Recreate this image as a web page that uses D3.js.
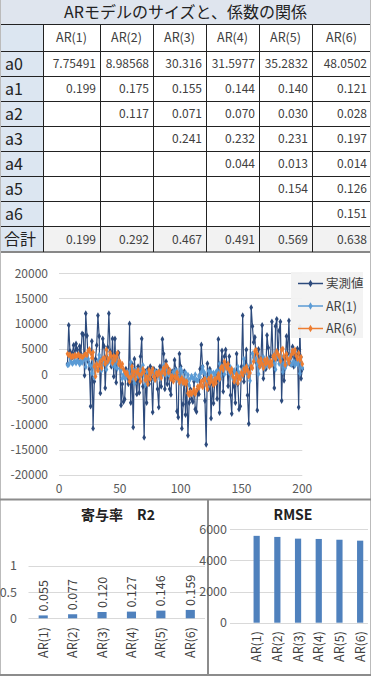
<!DOCTYPE html>
<html><head><meta charset="utf-8">
<script src="https://cdn.jsdelivr.net/npm/d3@7"></script>
<style>
html,body{margin:0;padding:0;background:#fff;}
svg{display:block;}
text{font-family:"Noto Sans CJK JP","Noto Sans",sans-serif;}
</style></head><body>
<svg id="c" width="371" height="676"></svg>
<script>
// ---------------- data ----------------
const tableTitle = "ARモデルのサイズと、係数の関係";
const models = ["AR(1)","AR(2)","AR(3)","AR(4)","AR(5)","AR(6)"];
const rowLabels = ["a0","a1","a2","a3","a4","a5","a6","合計"];
const rowA0 = ["7.75491","8.98568","30.316","31.5977","35.2832","48.0502"];
const rowA1 = ["0.199","0.175","0.155","0.144","0.140","0.121"];
const rowA2 = ["","0.117","0.071","0.070","0.030","0.028"];
const rowA3 = ["","","0.241","0.232","0.231","0.197"];
const rowA4 = ["","","","0.044","0.013","0.014"];
const rowA5 = ["","","","","0.154","0.126"];
const rowA6 = ["","","","","","0.151"];
const rowSum = ["0.199","0.292","0.467","0.491","0.569","0.638"];

const seriesNames = ["実測値","AR(1)","AR(6)"];
const xStart = 7; // first time index
const actual = [2000,9700,4500,3000,4200,5700,3500,6000,4800,2500,
 5500,4000,8000,7800,-300,12000,7600,2500,1000,-6400,
 6500,-10800,-1500,3000,5700,11600,7500,-3800,2000,7000,
 5500,-2800,3500,5300,12000,4500,1500,7000,-500,7000,
 -1700,4000,4200,2000,-6200,-2000,-5500,-5000,1000,0,
 -2000,10000,-5700,2000,-10600,3000,-1500,-4000,1500,-3700,
 3500,7000,-2500,-12600,500,-5700,1000,-2000,1500,-1000,
 -7600,1000,-500,500,-3000,-6600,1500,-2500,6900,4000,
 -3000,2500,-2000,1000,-3000,-4100,500,-1000,2800,1000,
 -7400,-8600,4000,1500,-10800,-6000,500,-8100,-2000,-12200,
 -5700,-3000,-5000,-5500,-1500,-7000,-7500,-3000,-4000,1000,
 5800,1500,-1000,-5300,-14000,2100,-3000,1000,-8800,-2000,
 -5800,-1500,0,-4900,6900,-7700,1000,4600,-3500,3500,
 4800,2000,-2400,3500,-4200,-7900,500,-2500,-5700,4000,
 -2000,-7000,-6400,1500,11600,-1500,1000,4800,-4200,-9900,
 1000,13200,9500,6300,7300,2500,-7200,4900,1500,3000,
 9700,-900,2000,1000,7700,5200,1500,3500,10400,2500,
 -2800,9500,10900,3000,8600,10400,-5300,3000,-1300,2000,
 7500,4000,10600,2000,3500,5400,1500,4000,2500,5000,
 -6600,9400,-900,1000];
const ar1 = [1800,1840,3380,2340,2040,2280,2580,2140,2640,2400,
 1940,2540,2240,3040,3000,1380,3840,2960,1940,1640,
 160,2740,-720,1140,2040,2580,3760,2940,680,1840,
 2840,2540,880,2140,2500,3840,2340,1740,2840,1340,
 2840,1100,2240,2280,720,-920,-80,-780,-680,520,
 320,-80,2320,-820,720,-1800,920,20,-480,620,
 -420,1020,1720,-180,-2200,420,-820,520,-80,620,
 120,-1200,520,220,420,-280,-1000,620,-180,1700,
 1120,-280,820,-80,520,-280,-500,420,120,760,
 400,-1280,-1520,1000,500,-1960,-1000,300,-1420,-200,
 -2240,-940,-400,-800,-900,-100,-1200,-1300,-400,-600,
 400,1360,500,0,-860,-2600,620,-400,400,-1120,
 240,-520,340,640,-340,2020,-900,840,1560,-60,
 1340,1600,1040,160,1340,-200,-940,740,140,-500,
 1440,240,-760,-640,940,2960,340,840,1600,-200,
 -1340,1640,4080,3340,2700,2900,1940,0,2420,1740,
 2040,3380,1260,1840,1640,2980,2480,1740,2140,3520,
 1940,880,3340,3620,2040,3160,3520,380,2040,1180,
 1840,2940,2240,3560,1840,2140,2520,1740,2240,1940,
 2440,120,3320,1260];
const ar6 = [4000,3700,3900,3300,3600,3400,3800,3500,3700,3900,
 3400,3600,3300,3500,3800,4000,3700,4600,4900,4200,
 3200,4300,1500,-500,2000,700,1800,2500,1200,3000,
 3200,2000,4800,2500,3000,4200,3500,2200,3600,2800,
 3500,4200,2000,2500,1500,2000,1000,500,0,300,
 -500,-1500,-800,1500,-300,500,-1000,300,800,-200,
 -1500,0,1000,500,-1200,-500,-2000,800,-1000,300,
 1000,-500,-1200,200,-300,500,0,-800,500,1200,
 0,1800,1500,300,800,-1000,-400,-1500,-500,-800,
 300,-1000,-1700,-1200,-800,-1800,-1300,-2000,-1500,-3800,
 -4200,-3500,-4000,-3600,-3000,-4000,-3400,-2500,-2800,-2200,
 -1500,-2600,-1200,-1000,-2200,-3000,-1000,-1800,-500,-1500,
 -2200,-1000,-1800,-700,0,-1000,1200,1500,800,2500,
 1800,1200,2000,800,300,1000,-500,-1500,-800,0,
 -1800,-500,-1000,300,-200,1000,500,1500,800,-500,
 200,1500,1200,2500,4500,4800,4000,2500,1500,3000,
 2000,1200,2800,2000,3000,2200,1500,2600,1800,3500,
 3800,3000,4500,4000,3500,2600,4800,5000,3500,1800,
 4000,3000,2200,3200,3800,4600,4200,4800,3600,3000,
 4200,2800,3400,2000];
const xTicks = [0,50,100,150,200];
const yTicks = [-20000,-15000,-10000,-5000,0,5000,10000,15000,20000];

const r2Title = "寄与率　R2";
const r2Values = [0.055,0.077,0.120,0.127,0.146,0.159];
const r2Labels = ["0.055","0.077","0.120","0.127","0.146","0.159"];
const r2Ticks = [0,0.5,1];
const rmseTitle = "RMSE";
const rmseValues = [5580,5510,5400,5380,5330,5270];
const rmseTicks = [0,2000,4000,6000];

// ---------------- drawing ----------------
const svg = d3.select("#c");
const tableRows = [rowA0,rowA1,rowA2,rowA3,rowA4,rowA5,rowA6,rowSum];

const colEdges = [0,43,100,153,206,259,312,371];
const rowEdges = [0,24.5,51,76,101,126,151,176,201,226.5,252];
const gT = svg.append("g");
gT.append("rect").attr("x",0).attr("y",0).attr("width",371).attr("height",rowEdges[1]).attr("fill","#dfe5ee");
gT.append("text").attr("x",185.5).attr("y",18).attr("text-anchor","middle").attr("font-size",16).attr("fill","#222").text(tableTitle);
gT.append("rect").attr("x",0).attr("y",rowEdges[1]).attr("width",colEdges[1]).attr("height",rowEdges[10]-rowEdges[1]).attr("fill","#dce6f1");
gT.append("rect").attr("x",colEdges[1]).attr("y",rowEdges[9]).attr("width",371-colEdges[1]).attr("height",rowEdges[10]-rowEdges[9]).attr("fill","#f2f2f2");
models.forEach((m,i)=>{
  gT.append("text").attr("x",(colEdges[i+1]+colEdges[i+2])/2).attr("y",(rowEdges[1]+rowEdges[2])/2+4.5)
    .attr("text-anchor","middle").attr("font-size",12.5).attr("fill","#404040").text(m);
});
rowLabels.forEach((r,j)=>{
  const yc=(rowEdges[j+2]+rowEdges[j+3])/2;
  gT.append("text").attr("x",r==="合計"?4:5).attr("y",yc+6).attr("font-size",16).attr("fill","#222").text(r);
  tableRows[j].forEach((v,i)=>{
    if(v==="")return;
    gT.append("text").attr("x",colEdges[i+2]-4).attr("y",yc+4.5).attr("text-anchor","end")
      .attr("font-size",12).attr("fill","#404040").text(v);
  });
});
rowEdges.forEach((y,k)=>{
  if(k===0)return;
  gT.append("line").attr("x1",0).attr("x2",371).attr("y1",y).attr("y2",y)
    .attr("stroke",k===10?"#888":"#222").attr("stroke-width",k===10?2:1).attr("shape-rendering","crispEdges");
});
colEdges.slice(1,7).forEach(x=>{
  gT.append("line").attr("x1",x).attr("x2",x).attr("y1",rowEdges[1]).attr("y2",rowEdges[10])
    .attr("stroke","#222").attr("stroke-width",1).attr("shape-rendering","crispEdges");
});
gT.append("line").attr("x1",0.5).attr("x2",0.5).attr("y1",0).attr("y2",676).attr("stroke","#bbb");
gT.append("line").attr("x1",370.5).attr("x2",370.5).attr("y1",0).attr("y2",676).attr("stroke","#bbb");

// ---------------- line chart ----------------
const x = d3.scaleLinear().domain([0,200]).range([59,302.3]);
const y = d3.scaleLinear().domain([-20000,20000]).range([474.7,273.3]);
const gL = svg.append("g");
gL.selectAll("line.gy").data(yTicks).join("line").attr("x1",59).attr("x2",302.3)
  .attr("y1",d=>Math.round(y(d))+0.5).attr("y2",d=>Math.round(y(d))+0.5).attr("stroke","#d9d9d9");
gL.selectAll("text.yt").data(yTicks).join("text").attr("x",48).attr("y",d=>y(d)+4.5)
  .attr("text-anchor","end").attr("font-size",12).attr("fill","#595959").text(d=>d);
gL.selectAll("text.xt").data(xTicks).join("text").attr("x",d=>x(d)).attr("y",493)
  .attr("text-anchor","middle").attr("font-size",12).attr("fill","#595959").text(d=>d);

const colors = ["#2c4a7c","#5b9bd5","#ed7d31"];
const widths = [1.2,1.0,1.1];
const allSeries = [actual,ar1,ar6];
const diamond = d3.symbol().type(d3.symbolDiamond).size(12);
[0,1,2].forEach(si=>{
  const pts = allSeries[si].map((v,i)=>[xStart+i,v]);
  gL.append("path").datum(pts).attr("fill","none").attr("stroke",colors[si]).attr("stroke-width",widths[si])
    .attr("d",d3.line().x(d=>x(d[0])).y(d=>y(d[1])));
  gL.selectAll(null).data(pts).join("path").attr("d",diamond)
    .attr("transform",d=>`translate(${x(d[0])},${y(d[1])})`).attr("fill",colors[si]);
});
const lg = gL.append("g");
lg.append("rect").attr("x",291).attr("y",272).attr("width",72).attr("height",66).attr("fill","#f2f2f2").attr("opacity",0.95);
seriesNames.forEach((n,i)=>{
  const yy=283.5+i*22.5;
  lg.append("line").attr("x1",298).attr("x2",323).attr("y1",yy).attr("y2",yy).attr("stroke",colors[i]).attr("stroke-width",1.5);
  lg.append("path").attr("d",d3.symbol().type(d3.symbolDiamond).size(16)).attr("transform",`translate(310.5,${yy})`).attr("fill",colors[i]);
  lg.append("text").attr("x",326).attr("y",yy+4.5).attr("font-size",12.5).attr("fill","#404040").text(n);
});

svg.append("line").attr("x1",0).attr("x2",371).attr("y1",499.5).attr("y2",499.5).attr("stroke","#8c8c8c").attr("stroke-width",2);
svg.append("line").attr("x1",208).attr("x2",208).attr("y1",499).attr("y2",676).attr("stroke","#8c8c8c").attr("stroke-width",2);
svg.append("line").attr("x1",0).attr("x2",371).attr("y1",675).attr("y2",675).attr("stroke","#8c8c8c").attr("stroke-width",2);

// ---------------- R2 bar chart ----------------
const gR = svg.append("g");
const xb = d3.scaleBand().domain(models).range([28.5,205]).paddingInner(0.69).paddingOuter(0.345);
const yb = d3.scaleLinear().domain([0,1]).range([618.3,565.7]);
gR.append("text").attr("x",118).attr("y",520).attr("text-anchor","middle").attr("font-size",14).attr("font-weight","bold").attr("fill","#222").text(r2Title);
gR.selectAll("line.g").data(r2Ticks).join("line").attr("x1",28.5).attr("x2",205)
  .attr("y1",d=>Math.round(yb(d))+0.5).attr("y2",d=>Math.round(yb(d))+0.5).attr("stroke","#d9d9d9");
gR.selectAll("text.t").data(r2Ticks).join("text").attr("x",17).attr("y",d=>yb(d)+4.5)
  .attr("text-anchor","end").attr("font-size",12.5).attr("fill","#595959").text(d=>d);
gR.selectAll("rect").data(r2Values).join("rect").attr("x",(d,i)=>xb(models[i])).attr("width",xb.bandwidth())
  .attr("y",d=>yb(d)).attr("height",d=>yb(0)-yb(d)).attr("fill","#4f81bd");
gR.selectAll("text.v").data(r2Labels).join("text")
  .attr("transform",(d,i)=>`translate(${xb(models[i])+xb.bandwidth()/2+4.5},${yb(r2Values[i])-4}) rotate(-90)`)
  .attr("font-size",12.5).attr("fill","#404040").text(d=>d);
gR.selectAll("text.c").data(models).join("text")
  .attr("transform",d=>`translate(${xb(d)+xb.bandwidth()/2+4.5},627) rotate(-90)`)
  .attr("text-anchor","end").attr("font-size",12.5).attr("fill","#404040").text(d=>d);

// ---------------- RMSE bar chart ----------------
const gM = svg.append("g");
const xm = d3.scaleBand().domain(models).range([246.3,370.5]).paddingInner(0.7).paddingOuter(0.35);
const ym = d3.scaleLinear().domain([0,6000]).range([622.7,529.3]);
gM.append("text").attr("x",293).attr("y",520).attr("text-anchor","middle").attr("font-size",14).attr("font-weight","bold").attr("fill","#222").text(rmseTitle);
gM.selectAll("line.g").data(rmseTicks).join("line").attr("x1",230).attr("x2",368)
  .attr("y1",d=>Math.round(ym(d))+0.5).attr("y2",d=>Math.round(ym(d))+0.5).attr("stroke","#d9d9d9");
gM.selectAll("text.t").data(rmseTicks).join("text").attr("x",227).attr("y",d=>ym(d)+4.5)
  .attr("text-anchor","end").attr("font-size",12.5).attr("fill","#595959").text(d=>d);
gM.selectAll("rect").data(rmseValues).join("rect").attr("x",(d,i)=>xm(models[i])).attr("width",xm.bandwidth())
  .attr("y",d=>ym(d)).attr("height",d=>ym(0)-ym(d)).attr("fill","#4f81bd");
gM.selectAll("text.c").data(models).join("text")
  .attr("transform",d=>`translate(${xm(d)+xm.bandwidth()/2+4.5},631) rotate(-90)`)
  .attr("text-anchor","end").attr("font-size",12.5).attr("fill","#404040").text(d=>d);
</script></body></html>
